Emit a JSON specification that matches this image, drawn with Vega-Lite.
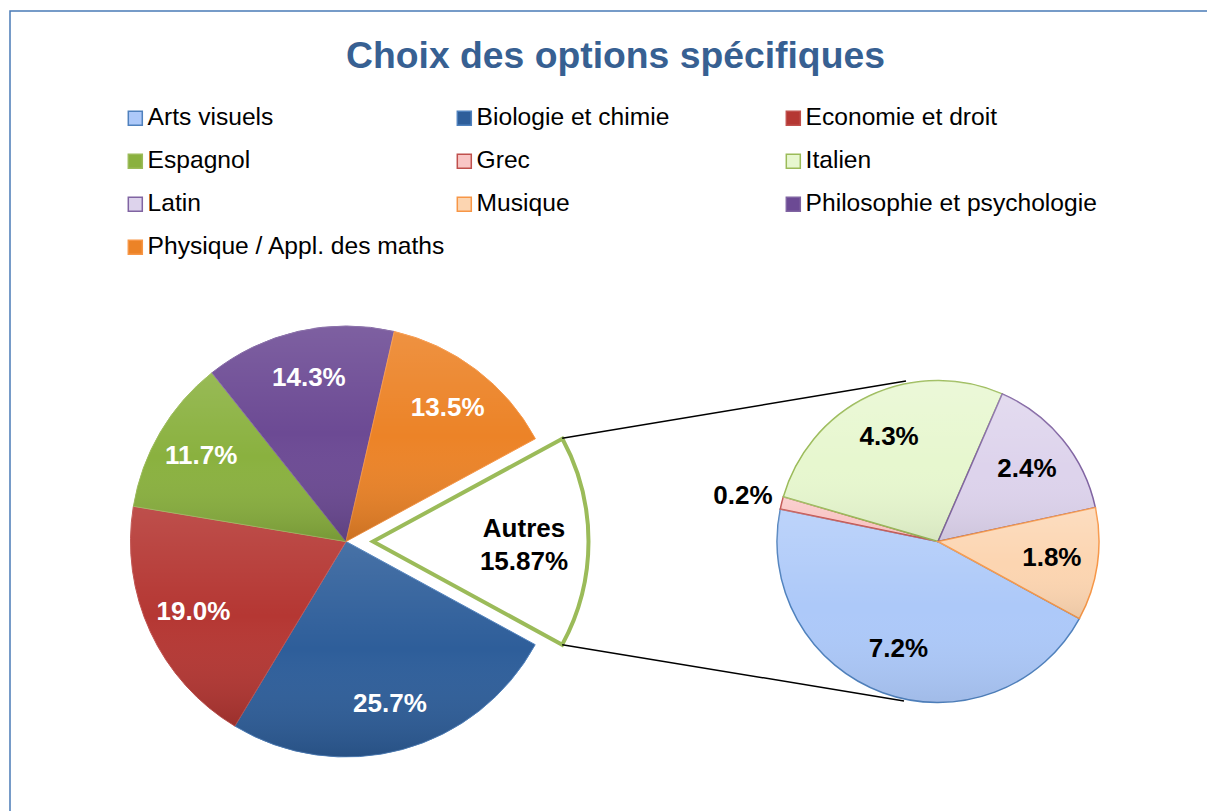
{
  "$schema": "https://vega.github.io/schema/vega-lite/v6.json",
  "autosize": "none",
  "padding": {"left": 10, "top": 11, "right": -6, "bottom": -6},
  "width": 1203,
  "height": 806,
  "title": {
    "text": "Choix des options spécifiques",
    "font": "Liberation Sans",
    "fontSize": 37.3,
    "fontWeight": "bold",
    "color": "#376092",
    "offset": -65,
    "dx": 4
  },
  "data": {
    "values": [
      {"option": "Biologie et chimie", "pct": 0.257, "groupe": "Principal", "rang": 1},
      {"option": "Economie et droit", "pct": 0.19, "groupe": "Principal", "rang": 2},
      {"option": "Espagnol", "pct": 0.117, "groupe": "Principal", "rang": 3},
      {"option": "Philosophie et psychologie", "pct": 0.143, "groupe": "Principal", "rang": 4},
      {"option": "Physique / Appl. des maths", "pct": 0.135, "groupe": "Principal", "rang": 5},
      {"option": "Autres", "pct": 0.1587, "groupe": "Principal", "rang": 6},
      {"option": "Arts visuels", "pct": 0.072, "groupe": "Secondaire", "rang": 1},
      {"option": "Grec", "pct": 0.002, "groupe": "Secondaire", "rang": 2},
      {"option": "Italien", "pct": 0.043, "groupe": "Secondaire", "rang": 3},
      {"option": "Latin", "pct": 0.024, "groupe": "Secondaire", "rang": 4},
      {"option": "Musique", "pct": 0.018, "groupe": "Secondaire", "rang": 5}
    ]
  },
  "layer": [
    {
      "transform": [{"filter": "datum.groupe === 'Principal'"}],
      "mark": {"type": "arc", "outerRadius": 215.5, "xOffset": -265.5, "yOffset": 127.5, "strokeWidth": 1},
      "encoding": {
        "theta": {"field": "pct", "type": "quantitative", "stack": "normalize", "scale": {"domain": [0, 1], "range": [2.07, 8.35319]}},
        "order": {"field": "rang", "type": "quantitative"},
        "fill": {
          "field": "option", "type": "nominal",
          "scale": {
            "domain": ["Arts visuels", "Biologie et chimie", "Economie et droit", "Espagnol", "Grec", "Italien", "Latin", "Musique", "Philosophie et psychologie", "Physique / Appl. des maths", "Autres"],
            "range": ["#adc9f9", "#2e5e9a", "#b53733", "#8ab13f", "#f9c6c5", "#e7f7cf", "#ddd3ec", "#fcd5b1", "#6c4a94", "#ec8327", "#ffffff"]
          },
          "legend": {
            "values": ["Arts visuels", "Biologie et chimie", "Economie et droit", "Espagnol", "Grec", "Italien", "Latin", "Musique", "Philosophie et psychologie", "Physique / Appl. des maths"],
            "orient": "none", "legendX": 113, "legendY": 95, "columns": 3, "direction": "horizontal", "title": null,
            "symbolType": "square", "symbolSize": 196, "symbolStrokeWidth": 1.5,
            "labelFontSize": 24.6, "labelFont": "Liberation Sans", "labelColor": "#000000", "labelLimit": 400, "labelOffset": 0,
            "columnPadding": 6, "rowPadding": 18, "gridAlign": "all", "padding": 0
          }
        },
        "stroke": {
          "field": "option", "type": "nominal",
          "scale": {
            "domain": ["Arts visuels", "Biologie et chimie", "Economie et droit", "Espagnol", "Grec", "Italien", "Latin", "Musique", "Philosophie et psychologie", "Physique / Appl. des maths", "Autres"],
            "range": ["#4f81bd", "#4f81bd", "#c0504d", "#9bbb59", "#c0504d", "#9bbb59", "#8064a2", "#f79646", "#8064a2", "#f79646", "#9bbb59"]
          },
          "legend": {
            "values": ["Arts visuels", "Biologie et chimie", "Economie et droit", "Espagnol", "Grec", "Italien", "Latin", "Musique", "Philosophie et psychologie", "Physique / Appl. des maths"],
            "orient": "none", "legendX": 113, "legendY": 95, "columns": 3, "direction": "horizontal", "title": null,
            "symbolType": "square", "symbolSize": 196, "symbolStrokeWidth": 1.5,
            "labelFontSize": 24.6, "labelFont": "Liberation Sans", "labelColor": "#000000", "labelLimit": 400, "labelOffset": 0,
            "columnPadding": 6, "rowPadding": 18, "gridAlign": "all", "padding": 0
          }
        },
        "opacity": {"condition": {"test": "datum.option === 'Autres'", "value": 0}, "value": 1}
      }
    },
    {
      "transform": [{"filter": "datum.groupe === 'Principal'"}],
      "mark": {
        "type": "arc", "outerRadius": 215.5, "xOffset": -265.5, "yOffset": 127.5, "stroke": null,
        "fill": {"gradient": "linear", "x1": 0, "y1": 0, "x2": 0, "y2": 1, "stops": [
          {"offset": 0, "color": "rgba(255,255,255,0.12)"},
          {"offset": 0.5, "color": "rgba(255,255,255,0)"},
          {"offset": 1, "color": "rgba(0,0,0,0.14)"}
        ]}
      },
      "encoding": {
        "theta": {"field": "pct", "type": "quantitative", "stack": "normalize"},
        "order": {"field": "rang", "type": "quantitative"},
        "detail": {"field": "option", "type": "nominal"},
        "opacity": {"condition": {"test": "datum.option === 'Autres'", "value": 0}, "value": 1}
      }
    },
    {
      "transform": [{"filter": "datum.groupe === 'Principal'"}],
      "mark": {"type": "arc", "outerRadius": 215.5, "xOffset": -238.5, "yOffset": 127.5, "fill": "#ffffff", "stroke": "#9bbb59", "strokeWidth": 4, "strokeJoin": "miter"},
      "encoding": {
        "theta": {"field": "pct", "type": "quantitative", "stack": "normalize"},
        "order": {"field": "rang", "type": "quantitative"},
        "detail": {"field": "option", "type": "nominal"},
        "opacity": {"condition": {"test": "datum.option === 'Autres'", "value": 1}, "value": 0}
      }
    },
    {
      "transform": [{"filter": "datum.groupe === 'Principal'"}],
      "mark": {"type": "text", "radius": 168, "xOffset": -265.5, "yOffset": 127.5, "color": "#ffffff", "font": "Liberation Sans", "fontSize": 26, "fontWeight": "bold"},
      "encoding": {
        "theta": {"field": "pct", "type": "quantitative", "stack": "normalize"},
        "order": {"field": "rang", "type": "quantitative"},
        "detail": {"field": "option", "type": "nominal"},
        "text": {"field": "pct", "type": "quantitative", "format": ".1%"},
        "opacity": {"condition": {"test": "datum.option === 'Autres'", "value": 0}, "value": 1}
      }
    },
    {
      "transform": [{"filter": "datum.groupe === 'Principal'"}],
      "mark": {"type": "text", "radius": 151, "xOffset": -238.5, "yOffset": 127.5, "dy": -13, "color": "#000000", "font": "Liberation Sans", "fontSize": 26, "fontWeight": "bold"},
      "encoding": {
        "theta": {"field": "pct", "type": "quantitative", "stack": "normalize"},
        "order": {"field": "rang", "type": "quantitative"},
        "detail": {"field": "option", "type": "nominal"},
        "text": {"field": "option", "type": "nominal"},
        "opacity": {"condition": {"test": "datum.option === 'Autres'", "value": 1}, "value": 0}
      }
    },
    {
      "transform": [{"filter": "datum.groupe === 'Principal'"}],
      "mark": {"type": "text", "radius": 151, "xOffset": -238.5, "yOffset": 127.5, "dy": 20, "color": "#000000", "font": "Liberation Sans", "fontSize": 26, "fontWeight": "bold"},
      "encoding": {
        "theta": {"field": "pct", "type": "quantitative", "stack": "normalize"},
        "order": {"field": "rang", "type": "quantitative"},
        "detail": {"field": "option", "type": "nominal"},
        "text": {"field": "pct", "type": "quantitative", "format": ".2%"},
        "opacity": {"condition": {"test": "datum.option === 'Autres'", "value": 1}, "value": 0}
      }
    },
    {
      "transform": [{"filter": "datum.groupe === 'Secondaire'"}],
      "mark": {"type": "arc", "outerRadius": 161, "xOffset": 326.5, "yOffset": 127.5, "strokeWidth": 1.5},
      "encoding": {
        "theta": {"field": "pct", "type": "quantitative", "stack": "normalize"},
        "order": {"field": "rang", "type": "quantitative"},
        "fill": {"field": "option", "type": "nominal"},
        "stroke": {"field": "option", "type": "nominal"}
      }
    },
    {
      "transform": [{"filter": "datum.groupe === 'Secondaire'"}],
      "mark": {
        "type": "arc", "outerRadius": 161, "xOffset": 326.5, "yOffset": 127.5, "stroke": null,
        "fill": {"gradient": "linear", "x1": 0, "y1": 0, "x2": 0, "y2": 1, "stops": [
          {"offset": 0, "color": "rgba(255,255,255,0.2)"},
          {"offset": 0.5, "color": "rgba(255,255,255,0)"},
          {"offset": 1, "color": "rgba(0,0,0,0.07)"}
        ]}
      },
      "encoding": {
        "theta": {"field": "pct", "type": "quantitative", "stack": "normalize"},
        "order": {"field": "rang", "type": "quantitative"},
        "detail": {"field": "option", "type": "nominal"}
      }
    },
    {
      "transform": [{"filter": "datum.groupe === 'Secondaire'"}],
      "mark": {"type": "text", "radius": 115, "xOffset": 326.5, "yOffset": 127.5, "color": "#000000", "font": "Liberation Sans", "fontSize": 26, "fontWeight": "bold"},
      "encoding": {
        "theta": {"field": "pct", "type": "quantitative", "stack": "normalize"},
        "order": {"field": "rang", "type": "quantitative"},
        "detail": {"field": "option", "type": "nominal"},
        "text": {"field": "pct", "type": "quantitative", "format": ".1%"},
        "opacity": {"condition": {"test": "datum.option === 'Grec'", "value": 0}, "value": 1}
      }
    },
    {
      "transform": [{"filter": "datum.groupe === 'Secondaire'"}],
      "mark": {"type": "text", "radius": 201, "xOffset": 326.5, "yOffset": 127.5, "dy": 3, "color": "#000000", "font": "Liberation Sans", "fontSize": 26, "fontWeight": "bold"},
      "encoding": {
        "theta": {"field": "pct", "type": "quantitative", "stack": "normalize"},
        "order": {"field": "rang", "type": "quantitative"},
        "detail": {"field": "option", "type": "nominal"},
        "text": {"field": "pct", "type": "quantitative", "format": ".1%"},
        "opacity": {"condition": {"test": "datum.option === 'Grec'", "value": 1}, "value": 0}
      }
    },
    {
      "transform": [{"filter": "datum.option === 'Autres'"}],
      "mark": {"type": "rule", "color": "#000000", "strokeWidth": 1.5},
      "encoding": {
        "x": {"value": 552.2}, "y": {"value": 427.3},
        "x2": {"value": 896}, "y2": {"value": 370}
      }
    },
    {
      "transform": [{"filter": "datum.option === 'Autres'"}],
      "mark": {"type": "rule", "color": "#000000", "strokeWidth": 1.5},
      "encoding": {
        "x": {"value": 552.2}, "y": {"value": 633.7},
        "x2": {"value": 894}, "y2": {"value": 690}
      }
    }
  ],
  "config": {
    "view": {"stroke": "#4a7bb7", "strokeWidth": 1.5},
    "font": "Liberation Sans"
  }
}
